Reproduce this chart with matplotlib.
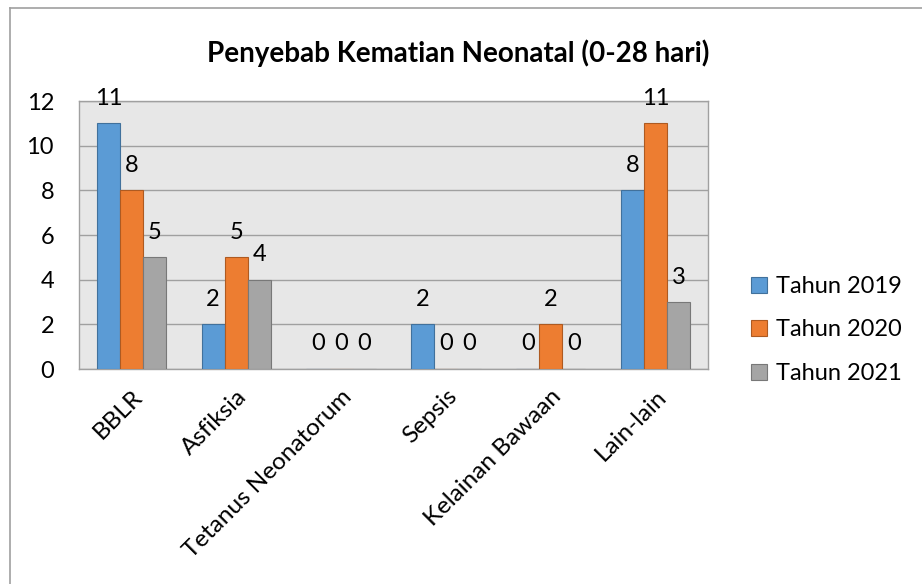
import matplotlib
matplotlib.use("Agg")
import matplotlib.pyplot as plt
import numpy as np
from matplotlib.lines import Line2D

categories = ["BBLR", "Asfiksia", "Tetanus Neonatorum", "Sepsis", "Kelainan Bawaan", "Lain-lain"]
series_names = ["Tahun 2019", "Tahun 2020", "Tahun 2021"]
v2019 = [11, 2, 0, 2, 0, 8]
v2020 = [8, 5, 0, 0, 2, 11]
v2021 = [5, 4, 0, 0, 0, 3]
yticks = [0, 2, 4, 6, 8, 10, 12]
title = "Penyebab Kematian Neonatal (0-28 hari)"

colors = ["#5B9BD5", "#ED7D31", "#A5A5A5"]
edges = ["#41719C", "#AE5A21", "#787878"]

plt.rcParams['font.family'] = ['Lato', 'DejaVu Sans']
FS = 17

fig = plt.figure(figsize=(9.22, 5.84), dpi=100)
W, H = 922, 584
ax = fig.add_axes([79 / W, 1 - 369 / H, (708 - 79) / W, (369 - 101) / H])
ax.set_facecolor("#E7E7E7")

x = np.arange(len(categories))
bw = 0.22
for i, (vals, name) in enumerate(zip([v2019, v2020, v2021], series_names)):
    pos = x + (i - 1) * bw
    ax.bar(pos, vals, width=bw, color=colors[i], edgecolor=edges[i], linewidth=0.8,
           label=name, zorder=3)
    for px, v in zip(pos, vals):
        ax.annotate(str(v), (px, v), xytext=(0, 18), textcoords="offset points",
                    ha="center", va="center", fontsize=FS, color="black",
                    annotation_clip=False, zorder=4)

ax.set_xlim(-0.5, len(categories) - 0.5)
ax.set_ylim(0, 12)
ax.set_yticks(yticks)
ax.set_yticklabels([str(t) for t in yticks], fontsize=FS)
ax.yaxis.grid(True, color="#A0A0A0", linewidth=1, zorder=0)
ax.set_axisbelow(True)
ax.tick_params(axis="y", length=0, pad=18)
ax.tick_params(axis="x", length=0, pad=12)
ax.set_xticks(x)
ax.set_xticklabels(categories, rotation=45, ha="right", rotation_mode="anchor", fontsize=17.5)
for s in ax.spines.values():
    s.set_color("#A0A0A0")
    s.set_linewidth(1)

fig.text(458 / W, 1 - 53 / H, title, ha="center", va="center", fontsize=20, fontweight="bold")

leg = ax.legend(loc="center left", bbox_to_anchor=(730 / W, 1 - 330 / H),
                bbox_transform=fig.transFigure, frameon=False, fontsize=FS,
                handlelength=0.65, handleheight=0.65, handletextpad=0.4, labelspacing=0.95)

# chart outer border (left and top visible)
fig.add_artist(Line2D([10 / W, 10 / W], [0, 1 - 8 / H], transform=fig.transFigure,
                      color="#A0A0A0", linewidth=1.2))
fig.add_artist(Line2D([10 / W, 1], [1 - 8 / H, 1 - 8 / H], transform=fig.transFigure,
                      color="#A0A0A0", linewidth=1.2))

fig.savefig("out.png", dpi=100)
